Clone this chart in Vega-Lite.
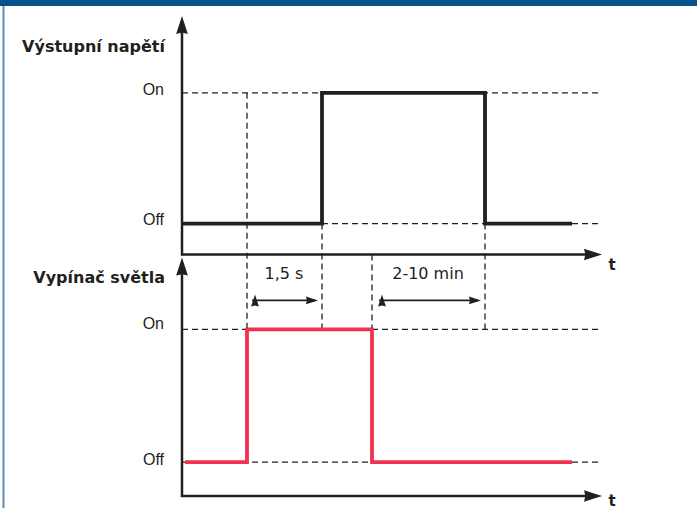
{
  "$schema": "https://vega.github.io/schema/vega-lite/v6.json",
  "width": 697,
  "height": 509,
  "padding": 0,
  "autosize": {"type": "fit", "contains": "padding"},
  "background": "white",
  "config": {"view": {"stroke": null}},
  "datasets": {
    "frame": [{"x": 0, "x2": 697, "y": 0, "y2": 6}],
    "border": [{"x": 3.5, "y": 6, "y2": 509}],
    "guides": [
      {"x": 182, "x2": 600, "y": 93, "y2": 93},
      {"x": 182, "x2": 600, "y": 224, "y2": 224},
      {"x": 182, "x2": 600, "y": 330, "y2": 330},
      {"x": 182, "x2": 600, "y": 463, "y2": 463},
      {"x": 247, "x2": 247, "y": 93, "y2": 463},
      {"x": 322, "x2": 322, "y": 224, "y2": 330},
      {"x": 372, "x2": 372, "y": 255, "y2": 330},
      {"x": 485, "x2": 485, "y": 224, "y2": 330}
    ],
    "axes": [
      {"x": 182, "x2": 182, "y": 30, "y2": 256},
      {"x": 181, "x2": 590, "y": 255, "y2": 255},
      {"x": 182, "x2": 182, "y": 272, "y2": 498},
      {"x": 181, "x2": 590, "y": 497, "y2": 497}
    ],
    "bigArrows": [
      {"x": 182, "y": 25, "dir": "up"},
      {"x": 182, "y": 267, "dir": "up"},
      {"x": 593, "y": 255, "dir": "right"},
      {"x": 593, "y": 497, "dir": "right"}
    ],
    "spans": [
      {"x": 252, "x2": 315, "y": 301, "y2": 301},
      {"x": 379, "x2": 478, "y": 301, "y2": 301}
    ],
    "smallArrows": [
      {"x": 255, "y": 301, "dir": "left"},
      {"x": 312, "y": 301, "dir": "right"},
      {"x": 382, "y": 301, "dir": "left"},
      {"x": 475, "y": 301, "dir": "right"}
    ],
    "signals": [
      {"sig": "Výstupní napětí", "ord": 1, "t": 183, "v": 224},
      {"sig": "Výstupní napětí", "ord": 2, "t": 322, "v": 224},
      {"sig": "Výstupní napětí", "ord": 3, "t": 322, "v": 93},
      {"sig": "Výstupní napětí", "ord": 4, "t": 485, "v": 93},
      {"sig": "Výstupní napětí", "ord": 5, "t": 485, "v": 224},
      {"sig": "Výstupní napětí", "ord": 6, "t": 572, "v": 224},
      {"sig": "Vypínač světla", "ord": 1, "t": 185, "v": 463},
      {"sig": "Vypínač světla", "ord": 2, "t": 247, "v": 463},
      {"sig": "Vypínač světla", "ord": 3, "t": 247, "v": 330},
      {"sig": "Vypínač světla", "ord": 4, "t": 372, "v": 330},
      {"sig": "Vypínač světla", "ord": 5, "t": 372, "v": 463},
      {"sig": "Vypínač světla", "ord": 6, "t": 572, "v": 463}
    ],
    "titles": [
      {"label": "Výstupní napětí", "x": 165, "y": 47},
      {"label": "Vypínač světla", "x": 165, "y": 279}
    ],
    "levels": [
      {"label": "On", "x": 164, "y": 90},
      {"label": "Off", "x": 164, "y": 220},
      {"label": "On", "x": 164, "y": 325},
      {"label": "Off", "x": 164, "y": 461}
    ],
    "tLabels": [
      {"label": "t", "x": 612, "y": 266},
      {"label": "t", "x": 612, "y": 502}
    ],
    "notes": [
      {"label": "1,5 s", "x": 284, "y": 275},
      {"label": "2-10 min", "x": 428, "y": 275}
    ]
  },
  "layer": [
    {
      "data": {"name": "frame"},
      "mark": {"type": "rect", "fill": "#05518b"},
      "encoding": {
        "x": {"field": "x", "type": "quantitative", "scale": {"domain": [0, 697], "nice": false, "zero": false}, "axis": null},
        "x2": {"field": "x2"},
        "y": {"field": "y", "type": "quantitative", "scale": {"domain": [0, 509], "nice": false, "zero": false, "reverse": true}, "axis": null},
        "y2": {"field": "y2"}
      }
    },
    {
      "data": {"name": "border"},
      "mark": {"type": "rule", "stroke": "#5b8db8", "strokeWidth": 2},
      "encoding": {
        "x": {"field": "x", "type": "quantitative"},
        "y": {"field": "y", "type": "quantitative"},
        "y2": {"field": "y2"}
      }
    },
    {
      "data": {"name": "guides"},
      "mark": {"type": "rule", "stroke": "#231f20", "strokeWidth": 1.3, "strokeDash": [6, 4]},
      "encoding": {
        "x": {"field": "x", "type": "quantitative"},
        "x2": {"field": "x2"},
        "y": {"field": "y", "type": "quantitative"},
        "y2": {"field": "y2"}
      }
    },
    {
      "data": {"name": "signals"},
      "mark": {"type": "line", "strokeWidth": 3.8, "strokeJoin": "miter", "strokeCap": "butt", "interpolate": "linear"},
      "encoding": {
        "x": {"field": "t", "type": "quantitative"},
        "y": {"field": "v", "type": "quantitative"},
        "order": {"field": "ord"},
        "color": {"field": "sig", "type": "nominal", "scale": {"domain": ["Výstupní napětí", "Vypínač světla"], "range": ["#231f20", "#ee3350"]}, "legend": null}
      }
    },
    {
      "data": {"name": "axes"},
      "mark": {"type": "rule", "stroke": "#231f20", "strokeWidth": 2.5},
      "encoding": {
        "x": {"field": "x", "type": "quantitative"},
        "x2": {"field": "x2"},
        "y": {"field": "y", "type": "quantitative"},
        "y2": {"field": "y2"}
      }
    },
    {
      "data": {"name": "bigArrows"},
      "mark": {"type": "point", "filled": true, "size": 324, "opacity": 1, "fill": "#231f20", "strokeWidth": 0},
      "encoding": {
        "x": {"field": "x", "type": "quantitative"},
        "y": {"field": "y", "type": "quantitative"},
        "shape": {"field": "dir", "type": "nominal", "scale": {"domain": ["up", "right"], "range": ["M0,-1L0.65,1L0,0.85L-0.65,1Z", "M1,0L-1,0.65L-0.85,0L-1,-0.65Z"]}, "legend": null}
      }
    },
    {
      "data": {"name": "spans"},
      "mark": {"type": "rule", "stroke": "#231f20", "strokeWidth": 1.6},
      "encoding": {
        "x": {"field": "x", "type": "quantitative"},
        "x2": {"field": "x2"},
        "y": {"field": "y", "type": "quantitative"},
        "y2": {"field": "y2"}
      }
    },
    {
      "data": {"name": "smallArrows"},
      "mark": {"type": "point", "filled": true, "size": 144, "opacity": 1, "fill": "#231f20", "strokeWidth": 0},
      "encoding": {
        "x": {"field": "x", "type": "quantitative"},
        "y": {"field": "y", "type": "quantitative"},
        "shape": {"field": "dir", "type": "nominal", "scale": {"domain": ["left", "right"], "range": ["M-1,0L1,-0.6L0.8,0L1,0.6Z", "M1,0L-1,0.6L-0.8,0L-1,-0.6Z"]}, "legend": null}
      }
    },
    {
      "data": {"name": "titles"},
      "mark": {"type": "text", "align": "right", "baseline": "middle", "font": "DejaVu Sans", "fontWeight": "bold", "fontSize": 16, "fill": "#231f20"},
      "encoding": {
        "x": {"field": "x", "type": "quantitative"},
        "y": {"field": "y", "type": "quantitative"},
        "text": {"field": "label"}
      }
    },
    {
      "data": {"name": "levels"},
      "mark": {"type": "text", "align": "right", "baseline": "middle", "font": "Liberation Sans", "fontSize": 16, "fill": "#231f20"},
      "encoding": {
        "x": {"field": "x", "type": "quantitative"},
        "y": {"field": "y", "type": "quantitative"},
        "text": {"field": "label"}
      }
    },
    {
      "data": {"name": "tLabels"},
      "mark": {"type": "text", "align": "center", "baseline": "middle", "font": "DejaVu Sans", "fontWeight": "bold", "fontSize": 15, "fill": "#231f20"},
      "encoding": {
        "x": {"field": "x", "type": "quantitative"},
        "y": {"field": "y", "type": "quantitative"},
        "text": {"field": "label"}
      }
    },
    {
      "data": {"name": "notes"},
      "mark": {"type": "text", "align": "center", "baseline": "middle", "font": "DejaVu Sans", "fontSize": 16, "fill": "#231f20"},
      "encoding": {
        "x": {"field": "x", "type": "quantitative"},
        "y": {"field": "y", "type": "quantitative"},
        "text": {"field": "label"}
      }
    }
  ]
}
